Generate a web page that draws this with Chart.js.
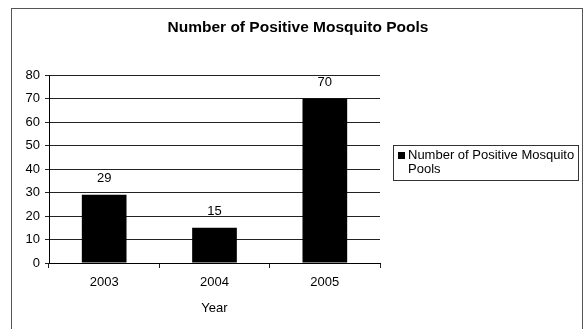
<!DOCTYPE html>
<html>
<head>
<meta charset="utf-8">
<script src="https://cdn.jsdelivr.net/npm/chart.js@4/dist/chart.umd.min.js"></script>
<style>
  html, body { margin: 0; padding: 0; background: #fff; }
  #wrap { width: 585px; height: 329px; }
</style>
</head>
<body>
<div id="wrap"><canvas id="chart" width="585" height="329"></canvas></div>
<script>
const TITLE = 'Number of Positive Mosquito Pools';
const YEARS = ['2003', '2004', '2005'];
const POOLS = [29, 15, 70];
const SERIES_LABEL = 'Number of Positive Mosquito Pools';
const X_TITLE = 'Year';
const Y_MIN = 0, Y_MAX = 80, Y_STEP = 10;

const FONT = "'Liberation Sans', Arial, sans-serif";

// values above the bars
const valueLabels = {
    id: 'valueLabels',
    afterDatasetsDraw(chart) {
        const { ctx } = chart;
        const meta = chart.getDatasetMeta(0);
        ctx.save();
        ctx.font = '13px ' + FONT;
        ctx.fillStyle = '#000';
        ctx.textAlign = 'center';
        ctx.textBaseline = 'middle';
        meta.data.forEach((bar, i) => {
            ctx.fillText(String(chart.data.datasets[0].data[i]), bar.x, bar.y - 16);
        });
        ctx.restore();
    }
};

// outer frame, title and boxed legend (excel style)
const frame = {
    id: 'frame',
    beforeDraw(chart) {
        const { ctx } = chart;
        ctx.save();
        ctx.fillStyle = '#fff';
        ctx.fillRect(0, 0, chart.width, chart.height);
        ctx.strokeStyle = '#555';
        ctx.lineWidth = 1;
        ctx.strokeRect(11.5, 8.5, 571, 340);
        ctx.restore();
    },
    afterDraw(chart) {
        const { ctx } = chart;
        ctx.save();
        ctx.fillStyle = '#000';
        ctx.font = 'bold 15.5px ' + FONT;
        ctx.textAlign = 'center';
        ctx.textBaseline = 'middle';
        ctx.fillText(TITLE, 298, 28);

        // legend box
        const bx = 393.5, by = 145.5, bw = 185, bh = 35;
        ctx.strokeStyle = '#333';
        ctx.strokeRect(bx, by, bw, bh);
        ctx.fillStyle = chart.data.datasets[0].backgroundColor;
        ctx.fillRect(398, 152, 7, 7);

        ctx.fillStyle = '#000';
        ctx.font = '13px ' + FONT;
        ctx.textAlign = 'left';
        const words = chart.data.datasets[0].label.split(' ');
        const lines = [];
        let cur = '';
        words.forEach(w => {
            const t = cur ? cur + ' ' + w : w;
            if (ctx.measureText(t).width > 175 && cur) { lines.push(cur); cur = w; }
            else cur = t;
        });
        if (cur) lines.push(cur);
        lines.forEach((ln, i) => ctx.fillText(ln, 408, 155 + i * 14));
        ctx.restore();
    }
};

new Chart(document.getElementById('chart'), {
    type: 'bar',
    data: {
        labels: YEARS,
        datasets: [{
            label: SERIES_LABEL,
            data: POOLS,
            backgroundColor: '#000',
            borderWidth: 0,
            barPercentage: 0.405,
            categoryPercentage: 1
        }]
    },
    plugins: [frame, valueLabels],
    options: {
        responsive: false,
        animation: false,
        layout: { padding: { top: 75, right: 205, left: 0, bottom: 0 } },
        plugins: {
            legend: { display: false },
            title: { display: false },
            tooltip: { enabled: false }
        },
        scales: {
            x: {
                offset: true,
                afterFit: s => { s.height = 66; },
                grid: {
                    offset: true,
                    drawOnChartArea: true,
                    color: c => c.index === YEARS.length ? '#222' : 'rgba(0,0,0,0)',
                    tickColor: '#222',
                    tickLength: 5,
                    lineWidth: 1
                },
                border: { display: true, color: '#000', width: 1 },
                ticks: { color: '#000', font: { family: FONT, size: 13 }, padding: 7 },
                title: {
                    display: true,
                    text: X_TITLE,
                    color: '#000',
                    font: { family: FONT, size: 13 },
                    padding: { top: 4, bottom: 13 }
                }
            },
            y: {
                min: Y_MIN,
                max: Y_MAX,
                afterFit: s => { s.width = 49; },
                grid: { color: '#222', tickColor: '#222', tickLength: 4, lineWidth: 1 },
                border: { display: true, color: '#000', width: 1 },
                ticks: { stepSize: Y_STEP, color: '#000', font: { family: FONT, size: 13 }, padding: 5 }
            }
        }
    }
});
</script>
</body>
</html>
